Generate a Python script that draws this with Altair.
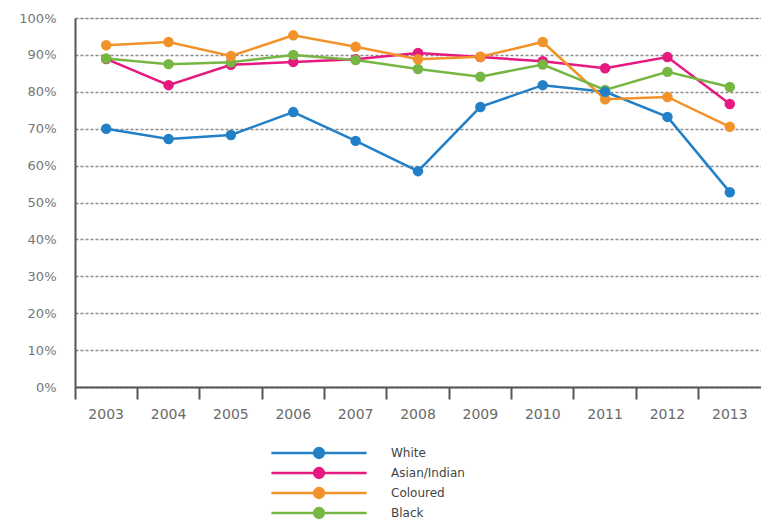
import altair as alt
import pandas as pd

years = ["2003", "2004", "2005", "2006", "2007", "2008", "2009", "2010", "2011", "2012", "2013"]
series = ["White", "Asian/Indian", "Coloured", "Black"]
white = [70.0, 67.2, 68.3, 74.5, 66.7, 58.5, 75.9, 81.8, 80.0, 73.2, 52.8]
asian = [88.9, 81.8, 87.3, 88.1, 88.8, 90.5, 89.4, 88.3, 86.4, 89.4, 76.7]
coloured = [92.6, 93.5, 89.7, 95.3, 92.2, 88.8, 89.5, 93.5, 78.0, 78.6, 70.5]
black = [89.0, 87.5, 88.0, 90.0, 88.6, 86.2, 84.1, 87.4, 80.5, 85.4, 81.3]
y_ticks = [0, 10, 20, 30, 40, 50, 60, 70, 80, 90, 100]
colors = ["#2380c6", "#e5197f", "#f2922a", "#76b744"]

rows = []
for name, vals in zip(series, [white, asian, coloured, black]):
    for yr, v in zip(years, vals):
        rows.append({"Year": yr, "Group": name, "Value": v})
df = pd.DataFrame(rows)

legend_symbol = "M-5.6,0H5.6M0.58,0A0.58,0.58 0 1,1 -0.58,0A0.58,0.58 0 1,1 0.58,0Z"

x = alt.X(
    "Year:N",
    sort=years,
    scale=alt.Scale(type="band", paddingInner=0, paddingOuter=0),
    axis=alt.Axis(
        title=None,
        labelAngle=0,
        bandPosition=0,
        ticks=True,
        tickSize=12,
        tickWidth=2,
        tickColor="#555555",
        domainColor="#555555",
        domainWidth=2,
        labelPadding=8,
        labelFontSize=14,
        labelColor="#6a6a6a",
        labelFont="DejaVu Sans",
        grid=False,
    ),
)
y = alt.Y(
    "Value:Q",
    scale=alt.Scale(domain=[0, 100]),
    axis=alt.Axis(
        title=None,
        values=y_ticks,
        labelExpr="datum.value + '%'",
        labelOverlap=False,
        ticks=False,
        domainColor="#555555",
        domainWidth=2,
        labelPadding=19,
        labelFontSize=13,
        labelColor="#767676",
        labelFont="DejaVu Sans",
        grid=True,
        gridDash=[3, 2],
        gridColor="#8a8a8a",
        gridWidth=1.5,
    ),
)
color = alt.Color(
    "Group:N",
    sort=series,
    scale=alt.Scale(domain=series, range=colors),
    legend=alt.Legend(
        title=None,
        orient="none",
        legendX=234,
        legendY=425,
        symbolType=legend_symbol,
        symbolSize=289,
        symbolStrokeWidth=2.5,
        labelOffset=62,
        labelFontSize=12,
        labelColor="#444444",
        labelFont="DejaVu Sans",
        rowPadding=-2,
    ),
)

base = alt.Chart(df).encode(x=x, y=y, color=color, order=alt.Order("Group:N"))
lines = base.mark_line(strokeWidth=2.5)
points = base.mark_point(filled=True, size=110, opacity=1)

chart = (
    alt.layer(lines, points)
    .properties(
        width=686,
        height=369,
        autosize=alt.AutoSizeParams(type="none"),
        padding={"left": 67, "top": 10, "right": 0, "bottom": 136},
    )
    .configure_view(stroke=None)
    .configure(background="white")
)

chart.save("out.html", embed_options={"renderer": "svg", "actions": False})
